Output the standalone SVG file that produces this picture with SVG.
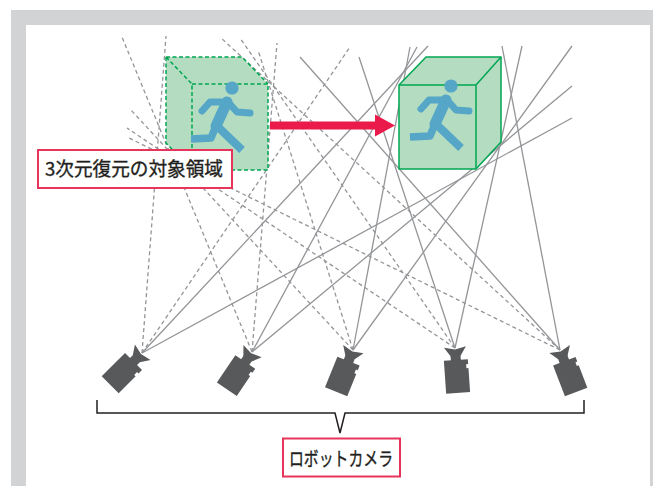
<svg xmlns="http://www.w3.org/2000/svg" xmlns:xlink="http://www.w3.org/1999/xlink" width="653" height="486" viewBox="0 0 653 486">
  <style>
    .ray { stroke: #939598; stroke-width: 1.3; fill: none; }
    .ray-dash { stroke: #939598; stroke-width: 1.3; fill: none; stroke-dasharray: 4 3; }
    .box { fill: #b3dcc0; stroke: #00a651; stroke-width: 1.5; stroke-linejoin: round; }
    .edge-dash { fill: none; stroke: #00a651; stroke-width: 1.5; stroke-dasharray: 4 2.5; }
    .edge { fill: none; stroke: #00a651; stroke-width: 1.5; stroke-linejoin: round; }
    .tag { fill: #ffffff; stroke: #e8345a; stroke-width: 2; }
    .tag-text { font-family: "Noto Sans CJK JP", "Noto Sans", sans-serif; fill: #231f20; stroke: #231f20; stroke-width: 0.35; }
    .cam { fill: #58595b; }
  </style>
  <defs>
    <!-- running figure, origin at head centre -->
    <g id="runner" fill="none" stroke="#55a6c7" stroke-linejoin="round">
      <circle r="6.6" fill="#55a6c7" stroke="none"/>
      <path d="M-5,14 L-16,38" stroke-width="11" stroke-linecap="round"/>
      <path d="M-4,14 L-22,14 L-30,23" stroke-width="7" stroke-linecap="round"/>
      <path d="M-4,14 L5,24 L18,25" stroke-width="7" stroke-linecap="round"/>
      <path d="M-16,38 L-21,50 L-41,51" stroke-width="7.5" stroke-linecap="butt"/>
      <path d="M-15,38 L10,62" stroke-width="8" stroke-linecap="butt"/>
    </g>
    <!-- camera pointing up, lens tip at origin -->
    <g id="camera" class="cam">
      <polygon points="-11,-1 0,1.5 11,-1 5,8 -5,8"/>
      <rect x="-5" y="7" width="10" height="6"/>
      <path d="M-12,12 H12 V17 H10 V21 H12 V45 H-12 Z"/>
    </g>
  </defs>

  <!-- frame -->
  <rect x="11" y="10" width="642" height="476" fill="#d1d3d4"/>
  <rect x="26" y="25" width="624" height="461" fill="#ffffff"/>

  <!-- sight lines from each camera -->
  <g id="connectors">
    <g id="rays-after">
      <line class="ray" x1="142" y1="353" x2="428" y2="46"/>
      <line class="ray" x1="142" y1="353" x2="572" y2="118"/>
      <line class="ray" x1="252" y1="352" x2="417" y2="47"/>
      <line class="ray" x1="252" y1="352" x2="572" y2="86"/>
      <line class="ray" x1="353" y1="350" x2="410" y2="47"/>
      <line class="ray" x1="353" y1="350" x2="572" y2="46"/>
      <line class="ray" x1="455" y1="348" x2="359" y2="57"/>
      <line class="ray" x1="455" y1="348" x2="522" y2="46"/>
      <line class="ray" x1="560" y1="350" x2="300" y2="57"/>
      <line class="ray" x1="560" y1="350" x2="502" y2="46"/>
    </g>
    <g id="rays-before">
      <line class="ray-dash" x1="142" y1="353" x2="166" y2="36"/>
      <line class="ray-dash" x1="142" y1="353" x2="350" y2="47"/>
      <line class="ray-dash" x1="252" y1="352" x2="122" y2="37"/>
      <line class="ray-dash" x1="252" y1="352" x2="277" y2="43"/>
      <line class="ray-dash" x1="353" y1="350" x2="130" y2="109"/>
      <line class="ray-dash" x1="353" y1="350" x2="258" y2="50"/>
      <line class="ray-dash" x1="455" y1="348" x2="127" y2="128"/>
      <line class="ray-dash" x1="455" y1="348" x2="240" y2="38"/>
      <line class="ray-dash" x1="560" y1="350" x2="127" y2="137"/>
      <line class="ray-dash" x1="560" y1="350" x2="220" y2="37"/>
    </g>
  </g>

  <!-- region before motion (dashed cube) -->
  <g id="region-before">
    <polygon points="166,57 242,57 268,84 268,170 192,170 166,143" fill="#b3dcc0"/>
    <path class="edge-dash" d="M166,57 H242 L268,84 M166,57 V143 L192,170 M166,57 L192,84"/>
    <rect class="edge-dash" x="192" y="84" width="76" height="86"/>
    <use xlink:href="#runner" href="#runner" transform="translate(232,88)"/>
  </g>

  <!-- region after motion (solid cube) -->
  <g id="region-after">
    <polygon class="box" points="399,85 426,57 501,57 501,142 476,169 399,169"/>
    <path class="edge" d="M399,85 H476 L501,57 M476,85 V169"/>
    <use xlink:href="#runner" href="#runner" transform="translate(451,86)"/>
  </g>

  <!-- motion arrow -->
  <g id="motion-arrow" fill="#ea1a4b">
    <rect x="270" y="121.5" width="107" height="8"/>
    <polygon points="375,114.5 395,125.5 375,136.5"/>
  </g>

  <!-- target region label -->
  <g id="label-region">
    <rect class="tag" x="38" y="150" width="194" height="38"/>
    <text class="tag-text" x="45" y="176" font-size="19" textLength="178" lengthAdjust="spacingAndGlyphs">3次元復元の対象領域</text>
  </g>

  <!-- cameras -->
  <g id="camera-1"><use xlink:href="#camera" href="#camera" transform="translate(142,353) rotate(45)"/></g>
  <g id="camera-2"><use xlink:href="#camera" href="#camera" transform="translate(252,352) rotate(34)"/></g>
  <g id="camera-3"><use xlink:href="#camera" href="#camera" transform="translate(353,350) rotate(22)"/></g>
  <g id="camera-4"><use xlink:href="#camera" href="#camera" transform="translate(455,348) rotate(-4)"/></g>
  <g id="camera-5"><use xlink:href="#camera" href="#camera" transform="translate(560,350) rotate(-21)"/></g>

  <!-- brace grouping the cameras -->
  <g id="camera-brace">
    <path d="M97,400 V413 H335 L340,433 L345,413 H584 V400" fill="none" stroke="#231f20" stroke-width="1.5"/>
  </g>

  <!-- camera label -->
  <g id="label-cameras">
    <rect class="tag" x="283" y="438.5" width="117" height="38"/>
    <text class="tag-text" x="289" y="466" font-size="19" textLength="104" lengthAdjust="spacingAndGlyphs">ロボットカメラ</text>
  </g>
</svg>
